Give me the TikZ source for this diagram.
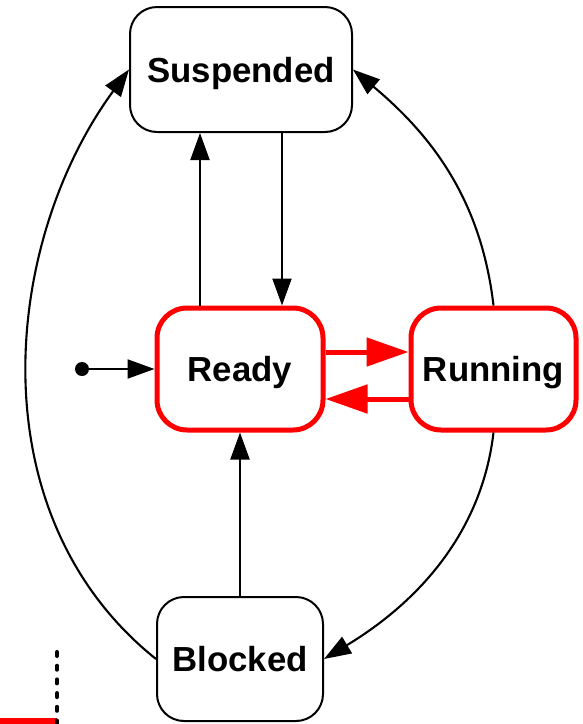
\documentclass[tikz,border=0pt]{standalone}
\usepackage{fontspec}
\setmainfont{Liberation Sans}
\usetikzlibrary{arrows.meta}
\begin{document}
\begin{tikzpicture}[x=1pt,y=-1pt,
  state/.style={draw=black, line width=2pt, rounded corners=27pt, fill=white,
    inner sep=0pt, text depth=0pt, font=\fontsize{34.8}{40}\selectfont\bfseries},
  active/.style={state, draw=red, line width=5pt, rounded corners=30pt},
  blk/.style={line width=2.1pt, -{Triangle[length=27pt,width=19pt]}},
  redarr/.style={draw=red, line width=5pt, -{Triangle[length=42pt,width=28pt]}}]
\useasboundingbox (0,0) rectangle (583,724);
\node[state, minimum width=222pt, minimum height=125pt] (susp) at (241,69.5) {Suspended};
\node[active, minimum width=166pt, minimum height=122pt] (ready) at (240,369) {Ready};
\node[active, minimum width=165pt, minimum height=122pt] (run) at (493.5,369) {Running};
\node[state, minimum width=166pt, minimum height=124pt] (blocked) at (240,659) {Blocked};
\fill (82,369) circle (7pt);
\node[inner sep=0pt, minimum size=0pt] (initn) at (82,369) {};
\draw[blk] (initn) -- (ready.west);
\draw[blk] ([xshift=-40pt]ready.north) -- ([xshift=-41pt]susp.south);
\draw[blk] ([xshift=41pt]susp.south) -- ([xshift=42pt]ready.north);
\draw[blk] (blocked.north) -- (ready.south);
\draw[redarr] ([yshift=17pt]ready.east) -- ([yshift=17pt]run.west);
\draw[redarr] ([yshift=-30pt]run.west) -- ([yshift=-30pt]ready.east);
\draw[blk] (run.north) .. controls (481,198) and (430,134) .. (susp.east);
\draw[blk] (run.south) .. controls (482,531) and (420,601) .. (blocked.east);
\draw[blk] (blocked.west) .. controls (-24,515) and (2,243) .. (susp.west);
\draw[red, line width=6pt] (0,721) -- (57,721);
\draw[line width=4pt, line cap=round, dash pattern=on 4pt off 9.7pt] (57,652) -- (57,726);
\end{tikzpicture}
\end{document}
